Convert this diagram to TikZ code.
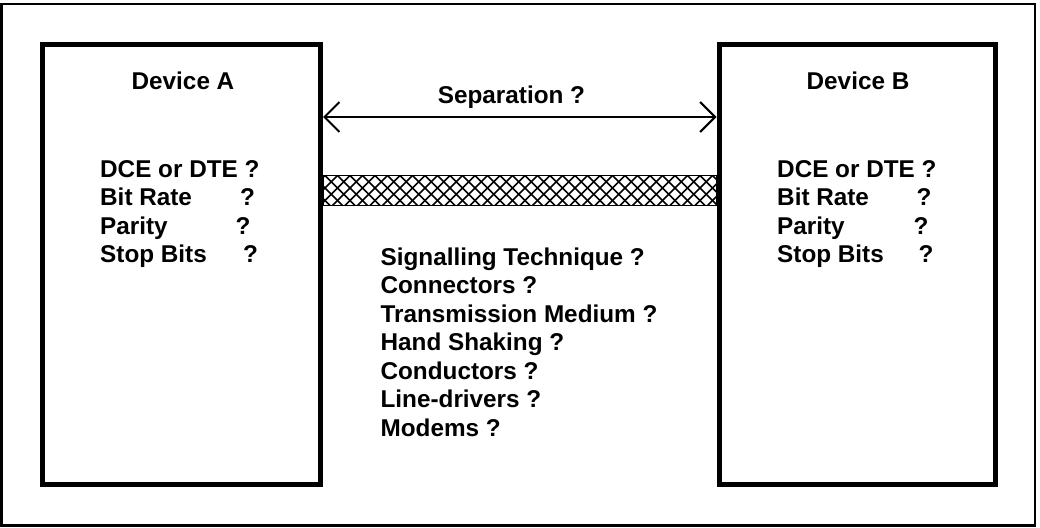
\documentclass[tikz,border=0pt]{standalone}
\usepackage{fontspec}
\setmainfont{Liberation Sans}
\usetikzlibrary{arrows.meta}
% label padded to a fixed width, followed by a question mark
\newcommand\qmarkat[2]{\makebox[#1][l]{#2}?}
\begin{document}
\begin{tikzpicture}[x=1pt,y=-1pt,
  every node/.style={font=\fontsize{24.3}{28.5}\selectfont\bfseries, inner sep=0pt, outer sep=0pt},
  outerframe/.style={line width=2.7pt},
  devbox/.style={draw, line width=5pt, minimum height=439.5pt, outer sep=2.5pt},
  item/.style={anchor=base west},
  head/.style={anchor=base},
  sepline/.style={line width=2pt,
    {Straight Barb[length=15pt,width=30pt]}-{Straight Barb[length=15pt,width=30pt]}},
  hatch/.style={line width=1.6pt},
  cable/.style={draw, line width=1.2pt, minimum width=393.5pt, minimum height=30pt,
    path picture={
      \foreach \k in {-3,...,34}{
        \draw[hatch] ([xshift=2pt+12.5pt*\k]path picture bounding box.north west) -- ++(32pt,-32pt);
        \draw[hatch] ([xshift=2pt+12.5pt*\k]path picture bounding box.north west) -- ++(-32pt,-32pt);
      }}}
]
\useasboundingbox (0,0) rectangle (1040,527);

% outer frame
\draw[outerframe] (1.5,4) rectangle (1035,525.5);

% the two devices
\node[devbox, minimum width=278pt]   (devA) at (181.5,264.25) {};
\node[devbox, minimum width=276.5pt] (devB) at (857.25,264.25) {};

\node[head] (titleA) at (183,89) {Device A};
\node[head] (titleB) at (858,89) {Device B};

% separation arrow
\coordinate (sepY) at (0,117);
\draw[sepline] (devA.east |- sepY) -- (devB.west |- sepY);
\node[head] (sepText) at (511.5,103) {Separation ?};

% the cable between the devices
\node[cable] (cable) at (519.75,190.5) {};

% device settings
\node[item] (a1) at (100.2,177)   {DCE or DTE ?};
\node[item] (a2) at (100.2,205.5) {\qmarkat{140pt}{Bit Rate}};
\node[item] (a3) at (100.2,234)   {\qmarkat{135.5pt}{Parity}};
\node[item] (a4) at (100.2,262.5) {\qmarkat{143pt}{Stop Bits}};

\node[item] (b1) at (777.2,177)   {DCE or DTE ?};
\node[item] (b2) at (777.2,205.5) {\qmarkat{139.5pt}{Bit Rate}};
\node[item] (b3) at (777.2,234)   {\qmarkat{136.5pt}{Parity}};
\node[item] (b4) at (777.2,262.5) {\qmarkat{141.5pt}{Stop Bits}};

% link questions
\node[item] (q1) at (380.6,265)   {Signalling Technique ?};
\node[item] (q2) at (380.6,293.5) {Connectors ?};
\node[item] (q3) at (380.6,322)   {Transmission Medium ?};
\node[item] (q4) at (380.6,350.5) {Hand Shaking ?};
\node[item] (q5) at (380.6,379)   {Conductors ?};
\node[item] (q6) at (380.6,407.5) {Line-drivers ?};
\node[item] (q7) at (380.6,436)   {Modems ?};
\end{tikzpicture}
\end{document}
